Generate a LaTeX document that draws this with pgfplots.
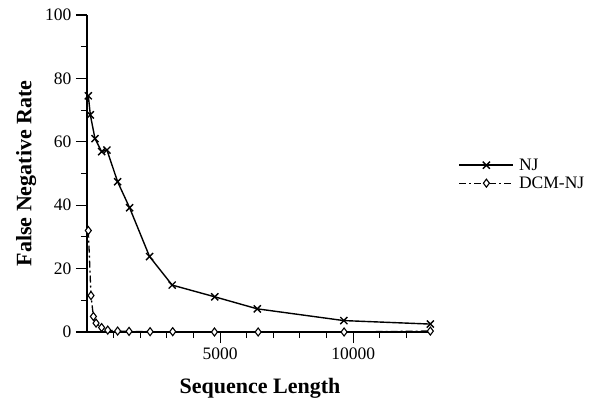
\documentclass[border=0pt]{standalone}
\usepackage{pgfplots}
\pgfplotsset{compat=1.18}
\usepackage{fontspec}
\setmainfont{Liberation Serif}
\begin{document}
\begin{tikzpicture}[x=1pt,y=1pt]
\begin{axis}[
  at={(0,0)}, anchor=south west,
  scale only axis, width=346pt, height=317pt,
  xmin=0, xmax=13000, ymin=0, ymax=100,
  axis x line*=bottom, axis y line*=left,
  axis line style={line width=1.2pt,-},
  scaled x ticks=false, scaled y ticks=false,
  xtick={5000,10000},
  minor xtick={1000,2000,3000,4000,6000,7000,8000,9000,11000,12000},
  ytick={0,20,40,60,80,100},
  minor ytick={10,30,50,70,90},
  tick align=outside,
  major tick length=11pt, minor tick length=6pt,
  tick style={line width=1.1pt,black},
  /pgf/number format/assume math mode=true,
  /pgf/number format/set thousands separator={},
  tick label style={font=\fontsize{17.5}{19}\selectfont},
  xticklabel style={yshift=-1pt},
  yticklabel style={xshift=-1pt},
  xlabel={\textbf{Sequence Length}},
  ylabel={\textbf{False Negative Rate}},
  label style={font=\fontsize{22}{25}\selectfont},
  xlabel style={yshift=-12pt},
  ylabel style={yshift=2pt},
  clip=false,
  legend style={draw=none, fill=none, at={(1.065,0.56)}, anchor=north west,
    font=\fontsize{17.5}{20}\selectfont, row sep=1pt,
    /tikz/every odd column/.append style={column sep=3pt}},
  legend cell align=left,
  legend image code/.code={\draw[mark repeat=2,mark phase=2,#1] plot coordinates {(0pt,0pt) (27pt,0pt) (54pt,0pt)};},
]
\addplot[black, line width=1.4pt, mark=x, mark size=5pt, mark options={line width=1.4pt,solid}]
 coordinates {
 (50,74.5) (125,68.5) (300,61) (550,56.9) (750,57.4) (1150,47.4) (1600,39.2)
 (2350,23.8) (3200,14.8) (4800,11.1) (6400,7.3) (9650,3.6) (12900,2.5)
 };
\addlegendentry{NJ}
\addplot[black, line width=1.3pt, dash pattern=on 7pt off 3pt on 2pt off 3pt,
  mark=diamond*, mark size=4pt, mark options={solid, fill=white, line width=1.1pt}]
 coordinates {
 (50,32) (150,11.5) (240,4.9) (340,2.8) (550,1.4) (780,0.6) (1150,0.3) (1580,0.2)
 (2370,0.1) (3220,0.1) (4790,0) (6430,0) (9660,0) (12900,0.3)
 };
\addlegendentry{DCM-NJ}
\end{axis}
\pgfresetboundingbox
\useasboundingbox (-87pt,-69pt) rectangle (509pt,332pt);
\end{tikzpicture}
\end{document}
